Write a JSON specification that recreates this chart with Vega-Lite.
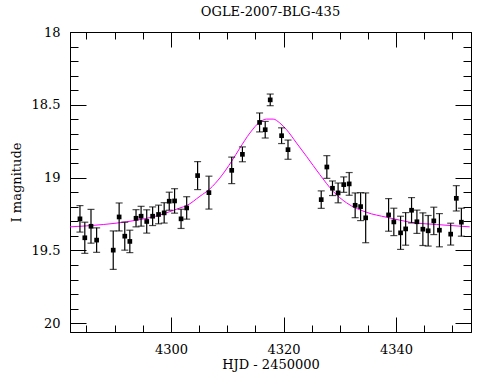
{
  "$schema": "https://vega.github.io/schema/vega-lite/v6.json",
  "width": 401,
  "height": 300,
  "autosize": {"type": "none"},
  "padding": {"left": 70, "top": 32, "right": 19, "bottom": 48},
  "background": "white",
  "title": {"text": "OGLE-2007-BLG-435", "font": "DejaVu Serif", "fontSize": 13, "fontWeight": "normal", "color": "black", "offset": 7},
  "config": {
    "view": {"stroke": "black", "strokeWidth": 1},
    "axis": {"domainColor": "black", "tickColor": "black", "labelColor": "black", "titleColor": "black", "labelFont": "DejaVu Serif", "titleFont": "DejaVu Serif", "labelFontSize": 13, "titleFontSize": 13, "titleFontWeight": "normal", "grid": false, "tickWidth": 1, "domainWidth": 1}
  },
  "datasets": {
    "pts": [
      {"t": 4283.84, "mag": 19.283, "lo": 19.192, "hi": 19.374},
      {"t": 4284.7, "mag": 19.413, "lo": 19.306, "hi": 19.52},
      {"t": 4285.8, "mag": 19.334, "lo": 19.218, "hi": 19.45},
      {"t": 4286.8, "mag": 19.429, "lo": 19.345, "hi": 19.513},
      {"t": 4289.75, "mag": 19.498, "lo": 19.366, "hi": 19.63},
      {"t": 4290.8, "mag": 19.27, "lo": 19.174, "hi": 19.366},
      {"t": 4291.8, "mag": 19.402, "lo": 19.306, "hi": 19.498},
      {"t": 4292.7, "mag": 19.438, "lo": 19.361, "hi": 19.515},
      {"t": 4293.8, "mag": 19.279, "lo": 19.22, "hi": 19.338},
      {"t": 4294.7, "mag": 19.265, "lo": 19.197, "hi": 19.333},
      {"t": 4295.7, "mag": 19.301, "lo": 19.221, "hi": 19.381},
      {"t": 4296.75, "mag": 19.265, "lo": 19.201, "hi": 19.329},
      {"t": 4297.8, "mag": 19.253, "lo": 19.189, "hi": 19.317},
      {"t": 4298.8, "mag": 19.242, "lo": 19.172, "hi": 19.312},
      {"t": 4299.7, "mag": 19.162, "lo": 19.1, "hi": 19.224},
      {"t": 4300.65, "mag": 19.16, "lo": 19.076, "hi": 19.244},
      {"t": 4301.8, "mag": 19.283, "lo": 19.217, "hi": 19.349},
      {"t": 4302.8, "mag": 19.208, "lo": 19.131, "hi": 19.285},
      {"t": 4304.74, "mag": 18.986, "lo": 18.89, "hi": 19.082},
      {"t": 4306.75, "mag": 19.103, "lo": 18.99, "hi": 19.216},
      {"t": 4310.8, "mag": 18.95, "lo": 18.859, "hi": 19.041},
      {"t": 4312.7, "mag": 18.84, "lo": 18.789, "hi": 18.891},
      {"t": 4315.75, "mag": 18.621, "lo": 18.556, "hi": 18.686},
      {"t": 4316.75, "mag": 18.671, "lo": 18.614, "hi": 18.728},
      {"t": 4317.64, "mag": 18.466, "lo": 18.426, "hi": 18.506},
      {"t": 4319.66, "mag": 18.712, "lo": 18.658, "hi": 18.766},
      {"t": 4320.8, "mag": 18.808, "lo": 18.742, "hi": 18.874},
      {"t": 4326.7, "mag": 19.151, "lo": 19.091, "hi": 19.211},
      {"t": 4327.7, "mag": 18.927, "lo": 18.849, "hi": 19.005},
      {"t": 4328.7, "mag": 19.073, "lo": 19.023, "hi": 19.123},
      {"t": 4329.7, "mag": 19.105, "lo": 19.037, "hi": 19.173},
      {"t": 4330.7, "mag": 19.048, "lo": 18.995, "hi": 19.101},
      {"t": 4331.67, "mag": 19.043, "lo": 18.965, "hi": 19.121},
      {"t": 4332.73, "mag": 19.19, "lo": 19.105, "hi": 19.275},
      {"t": 4333.7, "mag": 19.199, "lo": 19.103, "hi": 19.295},
      {"t": 4334.6, "mag": 19.276, "lo": 19.105, "hi": 19.447},
      {"t": 4338.67, "mag": 19.256, "lo": 19.144, "hi": 19.368},
      {"t": 4339.6, "mag": 19.304, "lo": 19.21, "hi": 19.398},
      {"t": 4340.8, "mag": 19.379, "lo": 19.265, "hi": 19.493},
      {"t": 4341.7, "mag": 19.352, "lo": 19.24, "hi": 19.464},
      {"t": 4342.75, "mag": 19.224, "lo": 19.137, "hi": 19.311},
      {"t": 4343.7, "mag": 19.303, "lo": 19.223, "hi": 19.383},
      {"t": 4344.76, "mag": 19.354, "lo": 19.242, "hi": 19.466},
      {"t": 4345.7, "mag": 19.365, "lo": 19.26, "hi": 19.47},
      {"t": 4346.7, "mag": 19.297, "lo": 19.203, "hi": 19.391},
      {"t": 4347.7, "mag": 19.361, "lo": 19.247, "hi": 19.475},
      {"t": 4349.7, "mag": 19.388, "lo": 19.313, "hi": 19.463},
      {"t": 4350.7, "mag": 19.142, "lo": 19.055, "hi": 19.229},
      {"t": 4351.6, "mag": 19.306, "lo": 19.21, "hi": 19.402}
    ],
    "curve": [
      {"t": 4282.07, "mag": 19.338},
      {"t": 4287.98, "mag": 19.322},
      {"t": 4292.14, "mag": 19.303},
      {"t": 4298.05, "mag": 19.257},
      {"t": 4301.6, "mag": 19.208},
      {"t": 4302.79, "mag": 19.192},
      {"t": 4305.15, "mag": 19.128},
      {"t": 4306.92, "mag": 19.077},
      {"t": 4308.7, "mag": 19.002},
      {"t": 4310.78, "mag": 18.888},
      {"t": 4312.25, "mag": 18.797},
      {"t": 4314.02, "mag": 18.694},
      {"t": 4315.8, "mag": 18.618},
      {"t": 4316.99, "mag": 18.598},
      {"t": 4318.16, "mag": 18.598},
      {"t": 4319.35, "mag": 18.625},
      {"t": 4320.54, "mag": 18.671},
      {"t": 4322.31, "mag": 18.762},
      {"t": 4324.09, "mag": 18.854},
      {"t": 4326.45, "mag": 18.979},
      {"t": 4328.81, "mag": 19.094},
      {"t": 4331.19, "mag": 19.173},
      {"t": 4334.74, "mag": 19.238},
      {"t": 4338.29, "mag": 19.272},
      {"t": 4340.65, "mag": 19.292},
      {"t": 4342.43, "mag": 19.306},
      {"t": 4347.17, "mag": 19.322},
      {"t": 4353.08, "mag": 19.338}
    ]
  },
  "layer": [
    {
      "data": {"name": "curve"},
      "mark": {"type": "line", "color": "#ff00ff", "strokeWidth": 1, "interpolate": "monotone", "clip": true},
      "encoding": {
        "x": {"field": "t", "type": "quantitative",
          "scale": {"domain": [4282.07, 4353.31], "nice": false, "zero": false},
          "axis": {"orient": "bottom", "title": "HJD - 2450000", "titlePadding": -6,
            "values": [4285, 4290, 4295, 4300, 4305, 4310, 4315, 4320, 4325, 4330, 4335, 4340, 4345, 4350],
            "tickSize": {"condition": {"test": "datum.value % 20 === 0", "value": -15}, "value": -7},
            "labelExpr": "datum.value % 20 === 0 ? format(datum.value, 'd') : ''",
            "labelPadding": 26, "labelFlush": false, "labelOverlap": false}},
        "y": {"field": "mag", "type": "quantitative",
          "scale": {"domain": [18, 20.06], "reverse": true, "nice": false, "zero": false},
          "axis": {"orient": "left", "title": "I magnitude", "titlePadding": 8,
            "values": [18, 18.1, 18.2, 18.3, 18.4, 18.5, 18.6, 18.7, 18.8, 18.9, 19, 19.1, 19.2, 19.3, 19.4, 19.5, 19.6, 19.7, 19.8, 19.9, 20],
            "tickSize": {"condition": {"test": "abs(datum.value*2 - round(datum.value*2)) < 0.001", "value": -16}, "value": -8},
            "labelExpr": "abs(datum.value*2 - round(datum.value*2)) < 0.001 ? format(datum.value, '~g') : ''",
            "labelPadding": 26, "labelOverlap": false, "labelFlush": false}}
      }
    },
    {
      "data": {"name": "pts"},
      "mark": {"type": "rule", "color": "black", "strokeWidth": 1.2},
      "encoding": {
        "x": {"field": "t", "type": "quantitative",
          "axis": {"orient": "top", "title": null, "labels": false,
            "values": [4285, 4290, 4295, 4300, 4305, 4310, 4315, 4320, 4325, 4330, 4335, 4340, 4345, 4350],
            "tickSize": {"condition": {"test": "datum.value % 20 === 0", "value": -15}, "value": -7}}},
        "y": {"field": "lo", "type": "quantitative",
          "axis": {"orient": "right", "title": null, "labels": false,
            "values": [18, 18.1, 18.2, 18.3, 18.4, 18.5, 18.6, 18.7, 18.8, 18.9, 19, 19.1, 19.2, 19.3, 19.4, 19.5, 19.6, 19.7, 19.8, 19.9, 20],
            "tickSize": {"condition": {"test": "abs(datum.value*2 - round(datum.value*2)) < 0.001", "value": -16}, "value": -8}}},
        "y2": {"field": "hi"}
      }
    },
    {
      "data": {"name": "pts"},
      "mark": {"type": "tick", "orient": "horizontal", "color": "black", "size": 7, "thickness": 1.2},
      "encoding": {
        "x": {"field": "t", "type": "quantitative", "axis": null},
        "y": {"field": "lo", "type": "quantitative", "axis": null}
      }
    },
    {
      "data": {"name": "pts"},
      "mark": {"type": "tick", "orient": "horizontal", "color": "black", "size": 7, "thickness": 1.2},
      "encoding": {
        "x": {"field": "t", "type": "quantitative", "axis": null},
        "y": {"field": "hi", "type": "quantitative", "axis": null}
      }
    },
    {
      "data": {"name": "pts"},
      "mark": {"type": "point", "shape": "square", "filled": true, "color": "black", "size": 22, "opacity": 1},
      "encoding": {
        "x": {"field": "t", "type": "quantitative", "axis": null},
        "y": {"field": "mag", "type": "quantitative", "axis": null}
      }
    }
  ],
  "resolve": {"axis": {"x": "independent", "y": "independent"}}
}
